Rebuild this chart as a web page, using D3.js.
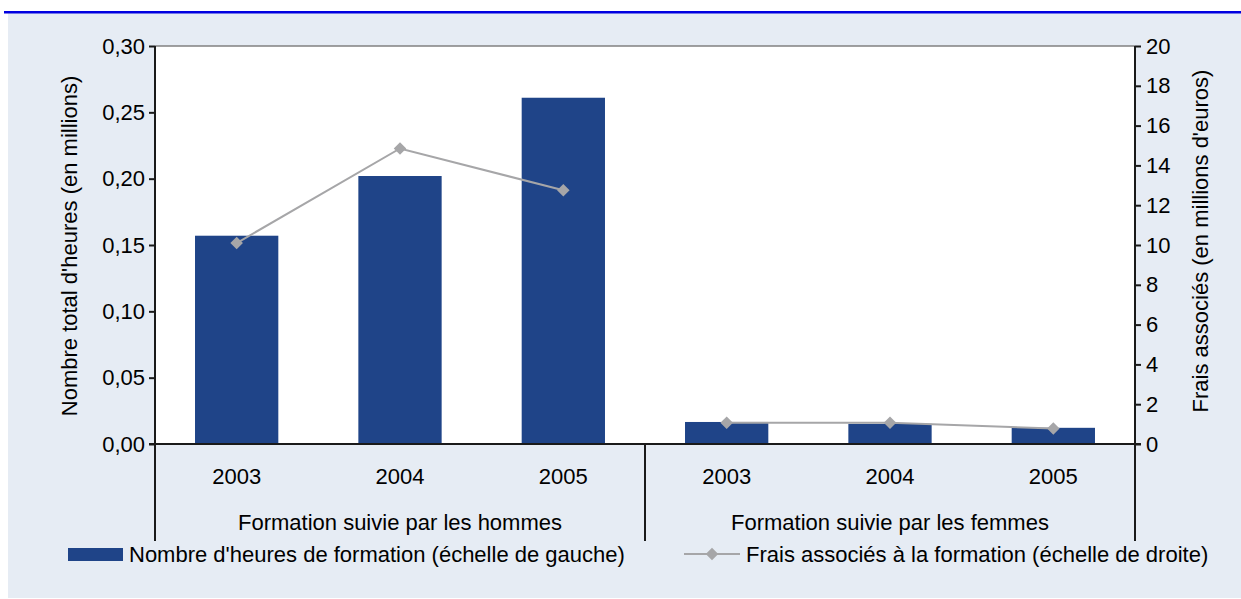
<!DOCTYPE html>
<html>
<head>
<meta charset="utf-8">
<script src="https://cdn.jsdelivr.net/npm/d3@7"></script>
<style>
  html, body { margin: 0; padding: 0; background: #ffffff; }
  svg { display: block; }
  text { font-family: "Liberation Sans", Arial, sans-serif; fill: #000; }
</style>
</head>
<body>
<svg id="chart" width="1241" height="599"></svg>
<script>
// ---- data ----
const groups = ["Formation suivie par les hommes", "Formation suivie par les femmes"];
const years = ["2003", "2004", "2005"];
const hours = [0.157, 0.202, 0.261, 0.0166, 0.0152, 0.0122];   // millions d'heures (left)
const costs = [10.1, 14.85, 12.75, 1.07, 1.07, 0.78];          // millions d'euros (right)
const leftTicks = [0, 0.05, 0.10, 0.15, 0.20, 0.25, 0.30];
const rightTicks = [0, 2, 4, 6, 8, 10, 12, 14, 16, 18, 20];
const leftTitle = "Nombre total d'heures (en millions)";
const rightTitle = "Frais associés (en millions d'euros)";
const legendBar = "Nombre d'heures de formation (échelle de gauche)";
const legendLine = "Frais associés à la formation (échelle de droite)";

const FS = "22px";

// categories: group index + year
const cats = [];
groups.forEach((g, gi) => years.forEach(y => cats.push(gi + "-" + y)));

const svg = d3.select("#chart");
const W = 1241, H = 599;
const m = { left: 155, right: 1135, top: 46, bottom: 444 };

// background
svg.append("rect").attr("x", 8).attr("y", 13).attr("width", W - 8).attr("height", 585).attr("fill", "#e6ecf4");
svg.append("rect").attr("x", 4).attr("y", 11).attr("width", W - 4).attr("height", 2.5).attr("fill", "#0000e0");

// plot area
svg.append("rect").attr("x", m.left).attr("y", m.top).attr("width", m.right - m.left).attr("height", m.bottom - m.top)
  .attr("fill", "#ffffff");
svg.append("line").attr("x1", m.left).attr("x2", m.right).attr("y1", m.top).attr("y2", m.top)
  .attr("stroke", "#808080").attr("stroke-width", 1.5);

const x = d3.scaleBand().domain(cats).range([m.left, m.right]).paddingInner(0.49).paddingOuter(0.245);
const yL = d3.scaleLinear().domain([0, 0.30]).range([m.bottom, m.top]);
const yR = d3.scaleLinear().domain([0, 20]).range([m.bottom, m.top]);
const fmt = d => d.toFixed(2).replace(".", ",");
const cx = i => x(cats[i]) + x.bandwidth() / 2;

// bars
svg.append("g").selectAll("rect").data(hours).join("rect")
  .attr("x", (d, i) => x(cats[i]))
  .attr("y", d => yL(d))
  .attr("width", x.bandwidth())
  .attr("height", d => yL(0) - yL(d))
  .attr("fill", "#1f4488");

// line, one segment per group
const line = d3.line().x(d => cx(d.i)).y(d => yR(d.v));
const pts = costs.map((v, i) => ({ v, i }));
const segs = groups.map((g, gi) => pts.slice(gi * years.length, (gi + 1) * years.length));
svg.append("g").selectAll("path").data(segs).join("path")
  .attr("d", line).attr("fill", "none")
  .attr("stroke", "#a6a6a8").attr("stroke-width", 2);
const diamond = d3.symbol().type(d3.symbolDiamond2).size(100);
svg.append("g").selectAll("path").data(pts).join("path")
  .attr("d", diamond)
  .attr("transform", d => `translate(${cx(d.i)},${yR(d.v)})`)
  .attr("fill", "#a6a6a8");

// axes
const axL = d3.axisLeft(yL).tickValues(leftTicks).tickFormat(fmt).tickSize(6).tickPadding(4);
const gL = svg.append("g").attr("transform", `translate(${m.left},0)`).call(axL);
const axR = d3.axisRight(yR).tickValues(rightTicks).tickFormat(d3.format("d")).tickSize(6).tickPadding(5);
const gR = svg.append("g").attr("transform", `translate(${m.right},0)`).call(axR);
[gL, gR].forEach(g => {
  g.select(".domain").remove();
  g.selectAll("line").attr("stroke", "#1a1a1a").attr("stroke-width", 2);
  g.selectAll("text").style("font-size", FS).attr("fill", "#000");
});
// axis lines
svg.append("line").attr("x1", m.left).attr("x2", m.left).attr("y1", m.top).attr("y2", 541).attr("stroke", "#1a1a1a").attr("stroke-width", 2);
svg.append("line").attr("x1", m.right).attr("x2", m.right).attr("y1", m.top).attr("y2", 541).attr("stroke", "#1a1a1a").attr("stroke-width", 2);
svg.append("line").attr("x1", (m.left + m.right) / 2).attr("x2", (m.left + m.right) / 2).attr("y1", m.bottom).attr("y2", 541).attr("stroke", "#1a1a1a").attr("stroke-width", 2);
svg.append("line").attr("x1", m.left - 6).attr("x2", m.right + 6).attr("y1", m.bottom).attr("y2", m.bottom).attr("stroke", "#1a1a1a").attr("stroke-width", 2);

// x labels
svg.append("g").selectAll("text").data(cats).join("text")
  .attr("x", d => x(d) + x.bandwidth() / 2).attr("y", 484)
  .attr("text-anchor", "middle").style("font-size", FS)
  .text(d => d.split("-")[1]);
svg.append("g").selectAll("text").data(groups).join("text")
  .attr("x", (d, i) => m.left + (m.right - m.left) / 4 * (1 + 2 * i)).attr("y", 530)
  .attr("text-anchor", "middle").style("font-size", FS)
  .text(d => d);

// axis titles
svg.append("text").attr("transform", `translate(77,246) rotate(-90)`).attr("text-anchor", "middle")
  .style("font-size", FS).text(leftTitle);
svg.append("text").attr("transform", `translate(1208,241) rotate(-90)`).attr("text-anchor", "middle")
  .style("font-size", FS).text(rightTitle);

// legend
svg.append("rect").attr("x", 68).attr("y", 548).attr("width", 55).attr("height", 13).attr("fill", "#1f4488");
svg.append("text").attr("x", 129).attr("y", 562).style("font-size", FS).text(legendBar);
svg.append("line").attr("x1", 684).attr("x2", 740).attr("y1", 554).attr("y2", 554).attr("stroke", "#a6a6a8").attr("stroke-width", 2);
svg.append("path").attr("d", diamond).attr("transform", "translate(712,554)").attr("fill", "#a6a6a8");
svg.append("text").attr("x", 746).attr("y", 562).style("font-size", FS).text(legendLine);
</script>
</body>
</html>
